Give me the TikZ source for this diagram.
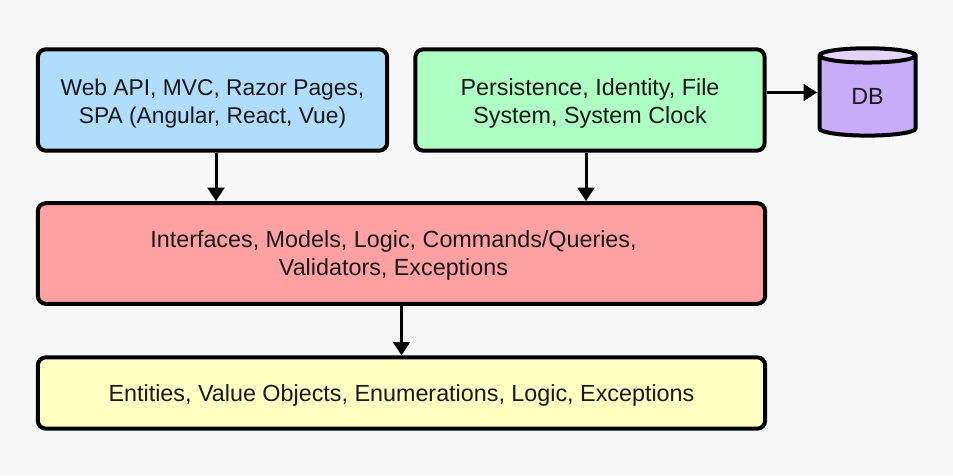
\documentclass[tikz,border=0pt]{standalone}
\usepackage{fontspec}
\setmainfont{Liberation Sans}
\usetikzlibrary{shapes.geometric,arrows.meta}
\definecolor{pageback}{RGB}{247,247,247}
\definecolor{dbfill}{RGB}{199,172,250}
\definecolor{dbtop}{RGB}{226,212,253}
\tikzset{every picture/.style={line width=0.75pt}}
\tikzset{layerbox/.style={draw=black,line width=3pt,rounded corners=6pt,align=center,inner sep=0pt,font=\fontsize{17.5}{21.2}\selectfont,text=black!90},
arrowline/.style={line width=2.25pt,-{Triangle[length=10pt,width=12.5pt]}},
dbshape/.style={cylinder,shape border rotate=90,aspect=0.44,draw=black,line width=3pt,cylinder uses custom fill,cylinder body fill=dbfill,cylinder end fill=dbtop,minimum width=72pt,minimum height=65.5pt,inner sep=0pt,font=\fontsize{17.5}{20}\selectfont,text=black!90}}
\begin{document}
\begin{tikzpicture}[x=0.75pt,y=0.75pt,yscale=-1,xscale=1]
\useasboundingbox[fill=pageback] (0,0) rectangle (953,475);
%Upper boxes
\node (webbox) [layerbox,text height=39pt,fill={rgb,255:red,176;green,220;blue,253},minimum width=262pt,minimum height=76pt,font=\fontsize{17.1}{21.2}\selectfont] at (212.5,100) {Web API, MVC, Razor Pages,\\SPA (Angular, React, Vue)};
\node (infrabox) [layerbox,text height=39pt,fill={rgb,255:red,173;green,255;blue,196},minimum width=262pt,minimum height=76pt] at (590,100) {Persistence, Identity, File\\System, System Clock};
\node (dbnode) [dbshape] at (867.5,96.5) {\raisebox{-5.5pt}{DB}};
%Lower boxes
\node (appbox) [layerbox,text height=37pt,fill={rgb,255:red,255;green,160;blue,163},minimum width=545.5pt,minimum height=75.5pt] at (401.5,253.5) {Interfaces, Models, Logic, Commands/Queries,\hspace*{12pt}\\Validators, Exceptions\hspace*{12pt}};
\node (domainbox) [layerbox,text height=16pt,fill={rgb,255:red,255;green,255;blue,193},minimum width=545.5pt,minimum height=53.5pt] at (401.5,393) {Entities, Value Objects, Enumerations, Logic, Exceptions};
%Connectors
\coordinate (webdrop) at (216,201);
\coordinate (infradrop) at (586,201);
\coordinate (dbport) at (817,92.5);
\draw [arrowline] (webbox.south -| webdrop) -- (webdrop);
\draw [arrowline] (infrabox.south -| infradrop) -- (infradrop);
\draw [arrowline] (appbox.south) -- (domainbox.north);
\draw [arrowline] (infrabox.east |- dbport) -- (dbport);
\end{tikzpicture}
\end{document}
